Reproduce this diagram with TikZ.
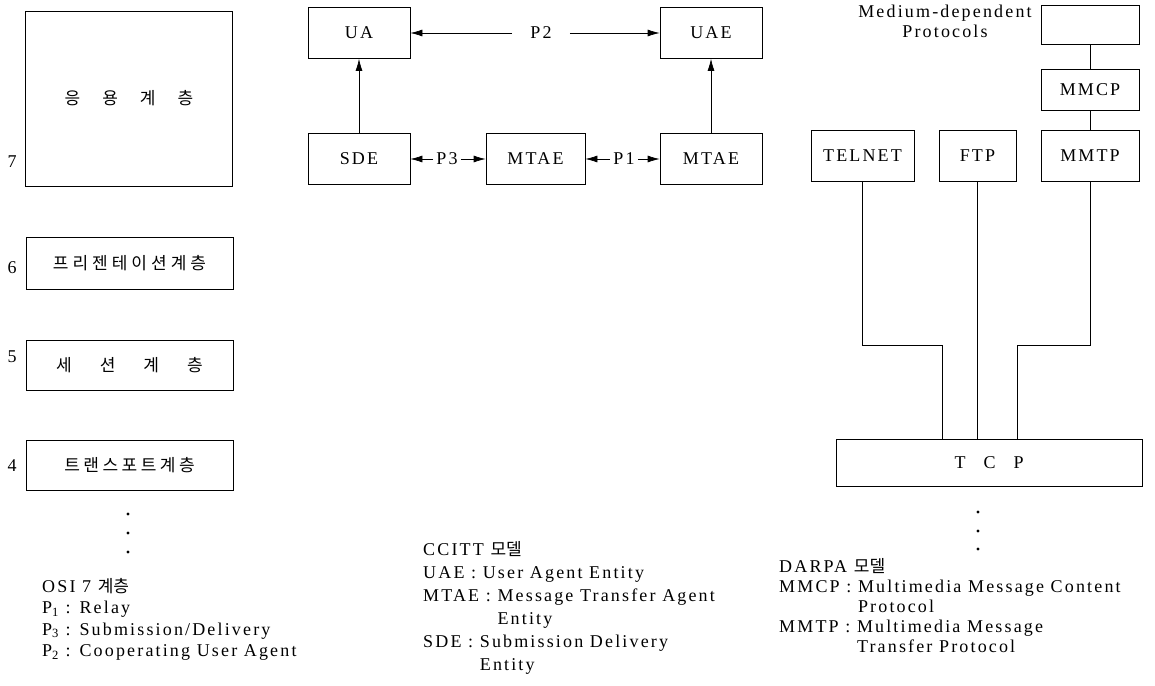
\documentclass[tikz,border=0pt]{standalone}
\usepackage{fontspec}
\setmainfont{Liberation Serif}[LetterSpace=12]
\newfontfamily\kr{Noto Sans CJK KR}
\newcommand\kor{\kr\fontsize{17}{20}\selectfont}
\usetikzlibrary{arrows.meta}

\begin{document}
\begin{tikzpicture}[x=1pt, y=-1pt, font=\rmfamily\fontsize{18}{22}\selectfont,
    box/.style={draw, line width=0.7pt, inner sep=0pt, minimum width=102pt, minimum height=51pt},
    lyr/.style={box, minimum width=207pt, minimum height=52pt},
    legend/.style={anchor=north west, align=left, inner sep=0pt},
    link/.style={line width=0.7pt},
    arr/.style={link, -{Latex[length=12pt, width=7pt]}}]
	\useasboundingbox (0,0) rectangle (1155,685);
	
	% OSI layers
	\node[lyr, minimum height=175pt] (l7) at (129,98.5) {\kor 응\hspace{22pt}용\hspace{22pt}계\hspace{22pt}층};
	\node[lyr] (l6) at (129.5,263.5) {\kor 프\hspace{4pt}리\hspace{4pt}젠\hspace{4pt}테\hspace{4pt}이\hspace{4pt}션\hspace{4pt}계\hspace{4pt}층};
	\node[lyr, minimum height=50pt] (l5) at (129.5,365) {\kor 세\hspace{28pt}션\hspace{28pt}계\hspace{28pt}층};
	\node[lyr, minimum height=50pt] (l4) at (129.5,465) {\kor 트\hspace{3.5pt}랜\hspace{3.5pt}스\hspace{3.5pt}포\hspace{3.5pt}트\hspace{3.5pt}계\hspace{3.5pt}층};
	\node (n7) at (12,162) {7};
	\node (n6) at (12,268) {6};
	\node (n5) at (12,357) {5};
	\node (n4) at (12,466) {4};
	\foreach \y in {514,533,552} \fill (128,\y) circle (1.6pt);
	\node[legend, font=\rmfamily\fontsize{18}{21.5}\selectfont] (osi) at (42,578) {OSI 7 {\kor 계층}\\P\textsubscript{1} : Relay\\P\textsubscript{3} : Submission/Delivery\\P\textsubscript{2} : Cooperating User Agent};
	
	% CCITT
	\node[box] (ua) at (359,33) {UA};
	\node[box] (uae) at (711,33) {UAE};
	\node[box] (sde) at (359,159) {SDE};
	\node[box, minimum width=99pt] (mtaea) at (535.5,159) {MTAE};
	\node[box] (mtaeb) at (711,159) {MTAE};
	\node[inner xsep=18pt] (p2) at (541,33) {P2};
	\node[inner xsep=3pt] (p3) at (447,159) {P3};
	\node[inner xsep=3pt] (p1) at (624,159) {P1};
	\draw[arr] (p2) -- (ua);
	\draw[arr] (p2) -- (uae);
	\draw[arr] (p3) -- (sde);
	\draw[arr] (p3) -- (mtaea);
	\draw[arr] (p1) -- (mtaea);
	\draw[arr] (p1) -- (mtaeb);
	\draw[arr] (sde) -- (ua);
	\draw[arr] (mtaeb) -- (uae);
	\node[legend, font=\rmfamily\fontsize{18}{23}\selectfont] (ccitt) at (423,541) {CCITT {\kor 모델}\\UAE : User Agent Entity\\MTAE : Message Transfer Agent\\\phantom{MTAE : }Entity\\SDE : Submission Delivery\\\phantom{SDE : }Entity};
	
	% DARPA
	\node[box, minimum width=98pt, minimum height=39pt] (med) at (1090,24.5) {};
	\node[anchor=north, align=center, inner sep=0pt, font=\rmfamily\fontsize{18}{20}\selectfont] (medtxt) at (945,5) {Medium-dependent\\Protocols};
	\node[box, minimum width=98pt, minimum height=41pt] (mmcp) at (1090,89.5) {MMCP};
	\node[box, minimum width=98pt] (mmtp) at (1090,155.5) {MMTP};
	\node[box, minimum width=103pt] (telnet) at (862.5,155.5) {TELNET};
	\node[box, minimum width=77pt] (ftp) at (977.5,155.5) {FTP};
	\node[box, minimum width=306pt, minimum height=47pt] (tcp) at (989,462.5) {T\hspace{18pt}C\hspace{18pt}P};
	\coordinate (tbend) at (942,345);
	\coordinate (mbend) at (1017,345);
	\draw[link] (med) -- (mmcp);
	\draw[link] (mmcp) -- (mmtp);
	\draw[link] (telnet) |- (tbend) -- (tbend |- tcp.north);
	\draw[link] (ftp) -- (ftp |- tcp.north);
	\draw[link] (mmtp) |- (mbend) -- (mbend |- tcp.north);
	\foreach \y in {512,531,549} \fill (978,\y) circle (1.6pt);
	\node[legend, font=\rmfamily\fontsize{18}{20}\selectfont] (darpa) at (779,558) {DARPA {\kor 모델}\\MMCP : Multimedia Message Content\\\phantom{MMCP : }Protocol\\MMTP : Multimedia Message\\\phantom{MMTP : }Transfer Protocol};
\end{tikzpicture}
\end{document}
